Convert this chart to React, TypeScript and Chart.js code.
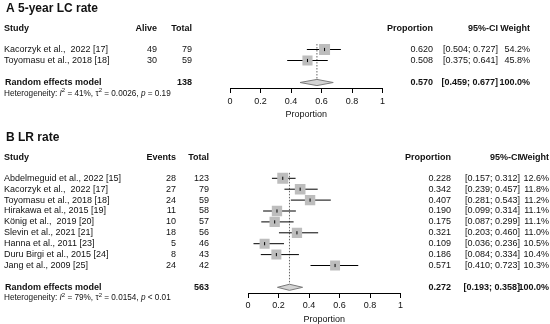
import React, { useEffect, useRef } from "react";
import { Chart, registerables } from "chart.js";

Chart.register(...registerables);

const FONT = "'Liberation Sans', Arial, sans-serif";

// ---------- Panel A: 5-year LC rate ----------
const titleA = "A 5-year LC rate";
const studiesA = ["Kacorzyk et al.,  2022 [17]", "Toyomasu et al., 2018 [18]"];
const eventHeaderA = "Alive";
const eventsA = [49, 30];
const totalsA = [79, 59];
const propsA = [0.62, 0.508];
const lowerA = [0.504, 0.375];
const upperA = [0.727, 0.641];
const weightsA = [54.2, 45.8];
const pooledTotalA = 138;
const pooledEstA = [0.57, 0.459, 0.677];
const hetA = ["41%", "0.0026", "= 0.19"];

// ---------- Panel B: LR rate ----------
const titleB = "B LR rate";
const studiesB = [
  "Abdelmeguid et al., 2022 [15]",
  "Kacorzyk et al.,  2022 [17]",
  "Toyomasu et al., 2018 [18]",
  "Hirakawa et al., 2015 [19]",
  "König et al.,  2019 [20]",
  "Slevin et al., 2021 [21]",
  "Hanna et al., 2011 [23]",
  "Duru Birgi et al., 2015 [24]",
  "Jang et al., 2009 [25]",
];
const eventHeaderB = "Events";
const eventsB = [28, 27, 24, 11, 10, 18, 5, 8, 24];
const totalsB = [123, 79, 59, 58, 57, 56, 46, 43, 42];
const propsB = [0.228, 0.342, 0.407, 0.19, 0.175, 0.321, 0.109, 0.186, 0.571];
const lowerB = [0.157, 0.239, 0.281, 0.099, 0.087, 0.203, 0.036, 0.084, 0.41];
const upperB = [0.312, 0.457, 0.543, 0.314, 0.299, 0.46, 0.236, 0.334, 0.723];
const weightsB = [12.6, 11.8, 11.2, 11.1, 11.1, 11.0, 10.5, 10.4, 10.3];
const pooledTotalB = 563;
const pooledEstB = [0.272, 0.193, 0.358];
const hetB = ["79%", "0.0154", "< 0.01"];

const xTicks = [0, 0.2, 0.4, 0.6, 0.8, 1];

type PanelProps = {
  title: string;
  studies: string[];
  eventHeader: string;
  events: number[];
  totals: number[];
  props: number[];
  lower: number[];
  upper: number[];
  weights: number[];
  pooledTotal: number;
  pooled: number[];
  het: string[];
  layout: {
    axisLeft: number;
    axisRight: number;
    rowPx: number;
    firstRowPx: number;
    col1: number;
    col2: number;
    propCol: number;
    ciCol: number;
    wCol: number;
  };
};

const f3 = (v: number) => v.toFixed(3);

function makeChart(canvas: HTMLCanvasElement, p: PanelProps) {
  const L = p.layout;
  const n = p.studies.length;
  const pooledIdx = n + 1;
  const H = 324;
  const yMin = -L.firstRowPx / L.rowPx;
  const yMax = yMin + H / L.rowPx;
  const maxW = Math.max(...p.weights);
  const SQUARE = 11;

  const datasets: any[] = [];
  // centre tick marks
  datasets.push({
    type: "scatter",
    data: p.props.map((v, i) => ({ x: v, y: i })),
    pointStyle: "line",
    pointRotation: 90,
    pointRadius: 1.6,
    pointBorderColor: "#000",
    pointBorderWidth: 1,
    order: 0,
  });
  // weight squares
  datasets.push({
    type: "scatter",
    data: p.props.map((v, i) => ({ x: v, y: i })),
    pointStyle: "rect",
    pointRadius: p.weights.map((w) => (SQUARE * Math.sqrt(w / maxW)) / Math.SQRT2),
    pointBackgroundColor: "#bdbdbd",
    pointBorderWidth: 0,
    order: 1,
  });
  // CI lines
  p.props.forEach((_, i) => {
    datasets.push({
      type: "line",
      data: [
        { x: p.lower[i], y: i },
        { x: p.upper[i], y: i },
      ],
      borderColor: "#000",
      borderWidth: 1,
      pointRadius: 0,
      fill: false,
      order: 2,
    });
  });
  // diamond
  const [est, lo, hi] = p.pooled;
  const dh = 0.28;
  datasets.push({
    type: "line",
    data: [
      { x: lo, y: pooledIdx },
      { x: est, y: pooledIdx - dh },
      { x: hi, y: pooledIdx },
      { x: est, y: pooledIdx + dh },
      { x: lo, y: pooledIdx },
    ],
    borderColor: "#7a7a7a",
    backgroundColor: "#d4d4d4",
    borderWidth: 1,
    pointRadius: 0,
    fill: "shape",
    order: 3,
  });
  // dotted reference line
  datasets.push({
    type: "line",
    data: [
      { x: est, y: -0.5 },
      { x: est, y: pooledIdx - dh },
    ],
    borderColor: "#666",
    borderDash: [1.5, 1.5],
    borderWidth: 1,
    pointRadius: 0,
    fill: false,
    order: 4,
  });

  const textPlugin = {
    id: "forestText",
    afterDraw(chart: any) {
      const ctx = chart.ctx as CanvasRenderingContext2D;
      const ys = chart.scales.y;
      const yp = (v: number) => ys.getPixelForValue(v);
      ctx.save();
      ctx.fillStyle = "#111";
      ctx.textBaseline = "middle";
      const txt = (s: string, x: number, y: number, align: CanvasTextAlign, font: string) => {
        ctx.font = font;
        ctx.textAlign = align;
        ctx.fillText(s, x, y);
      };
      const reg = `9px ${FONT}`;
      const bold = `bold 9px ${FONT}`;
      // title
      txt(p.title, 6, yp(-3.7), "left", `bold 12px ${FONT}`);
      // headers
      const hy = yp(-1.87);
      txt("Study", 4, hy, "left", bold);
      txt(p.eventHeader, L.col1, hy, "right", bold);
      txt("Total", L.col2, hy, "right", bold);
      txt("Proportion", L.propCol, hy, "right", bold);
      txt("95%-CI", L.ciCol, hy, "right", bold);
      txt("Weight", L.wCol, hy, "right", bold);
      // rows
      p.studies.forEach((s, i) => {
        const y = yp(i);
        txt(s, 4, y, "left", reg);
        txt(String(p.events[i]), L.col1, y, "right", reg);
        txt(String(p.totals[i]), L.col2, y, "right", reg);
        txt(f3(p.props[i]), L.propCol, y, "right", reg);
        txt(`[${f3(p.lower[i])}; ${f3(p.upper[i])}]`, L.ciCol, y, "right", reg);
        txt(`${p.weights[i].toFixed(1)}%`, L.wCol, y, "right", reg);
      });
      // pooled
      const py = yp(pooledIdx);
      txt("Random effects model", 5, py, "left", bold);
      txt(String(p.pooledTotal), L.col2, py, "right", bold);
      txt(f3(est), L.propCol, py, "right", bold);
      txt(`[${f3(lo)}; ${f3(hi)}]`, L.ciCol, py, "right", bold);
      txt("100.0%", L.wCol, py, "right", bold);
      // heterogeneity (rich text)
      const hy2 = yp(pooledIdx + 1);
      let x = 4;
      const seg = (s: string, font: string, dy = 0) => {
        ctx.font = font;
        ctx.textAlign = "left";
        ctx.fillText(s, x, hy2 + dy);
        x += ctx.measureText(s).width;
      };
      const r8 = `8.2px ${FONT}`;
      const i8 = `italic 8.2px ${FONT}`;
      const s6 = `6px ${FONT}`;
      seg("Heterogeneity: ", r8);
      seg("I", i8);
      seg("2", s6, -3);
      seg(` = ${p.het[0]}, `, r8);
      seg("τ", r8);
      seg("2", s6, -3);
      seg(` = ${p.het[1]}, `, r8);
      seg("p", i8);
      seg(` ${p.het[2]}`, r8);
      ctx.restore();
    },
  };

  const chart = new Chart(canvas, {
    type: "scatter",
    data: { datasets },
    options: {
      animation: false,
      responsive: false,
      events: [],
      layout: {
        padding: { left: L.axisLeft, right: 550 - L.axisRight, top: 0, bottom: 0 },
      },
      plugins: { legend: { display: false }, tooltip: { enabled: false } },
      scales: {
        x: {
          type: "linear",
          min: 0,
          max: 1,
          position: { y: pooledIdx + 0.55 } as any,
          afterBuildTicks: (axis: any) => {
            axis.ticks = xTicks.map((v) => ({ value: v }));
          },
          ticks: {
            callback: (v: any) => String(+Number(v).toFixed(1)),
            font: { size: 9, family: FONT, lineHeight: 1 },
            color: "#111",
            padding: 4,
            maxRotation: 0,
            autoSkip: false,
          },
          grid: {
            display: true,
            drawOnChartArea: false,
            drawTicks: true,
            tickLength: 4,
            color: "#000",
          },
          border: { display: true, color: "#000", width: 1 },
          title: {
            display: true,
            text: "Proportion",
            font: { size: 9, family: FONT },
            color: "#111",
            padding: { top: 0, bottom: 0 },
          },
        },
        y: {
          type: "linear",
          display: false,
          reverse: true,
          min: yMin,
          max: yMax,
        },
      },
    },
    plugins: [textPlugin],
  } as any);

  // re-map the hidden row axis so that rows land at the intended pixel rows
  const ca = chart.chartArea;
  const yMin2 = (ca.top - L.firstRowPx) / L.rowPx;
  const yMax2 = yMin2 + (ca.bottom - ca.top) / L.rowPx;
  (chart.options as any).scales.y.min = yMin2;
  (chart.options as any).scales.y.max = yMax2;
  chart.update();
  return chart;
}

function Panel(props: PanelProps) {
  const ref = useRef<HTMLCanvasElement | null>(null);
  useEffect(() => {
    if (!ref.current) return;
    const chart = makeChart(ref.current, props);
    return () => chart.destroy();
  }, []);
  return (
    <canvas
      ref={ref}
      width={550}
      height={324}
      style={{ position: "absolute", left: 0, top: 0, width: 550, height: 324 }}
    />
  );
}

export default function App() {
  return (
    <div
      style={{
        position: "absolute",
        left: 0,
        top: 0,
        width: 550,
        height: 324,
        background: "#fff",
        overflow: "hidden",
      }}
    >
      <Panel
        title={titleA}
        studies={studiesA}
        eventHeader={eventHeaderA}
        events={eventsA}
        totals={totalsA}
        props={propsA}
        lower={lowerA}
        upper={upperA}
        weights={weightsA}
        pooledTotal={pooledTotalA}
        pooled={pooledEstA}
        het={hetA}
        layout={{
          axisLeft: 230,
          axisRight: 382.5,
          rowPx: 11,
          firstRowPx: 49.5,
          col1: 157,
          col2: 192,
          propCol: 433,
          ciCol: 498,
          wCol: 530,
        }}
      />
      <Panel
        title={titleB}
        studies={studiesB}
        eventHeader={eventHeaderB}
        events={eventsB}
        totals={totalsB}
        props={propsB}
        lower={lowerB}
        upper={upperB}
        weights={weightsB}
        pooledTotal={pooledTotalB}
        pooled={pooledEstB}
        het={hetB}
        layout={{
          axisLeft: 248,
          axisRight: 400.5,
          rowPx: 10.9,
          firstRowPx: 178.3,
          col1: 176,
          col2: 209,
          propCol: 451,
          ciCol: 520,
          wCol: 549,
        }}
      />
    </div>
  );
}
